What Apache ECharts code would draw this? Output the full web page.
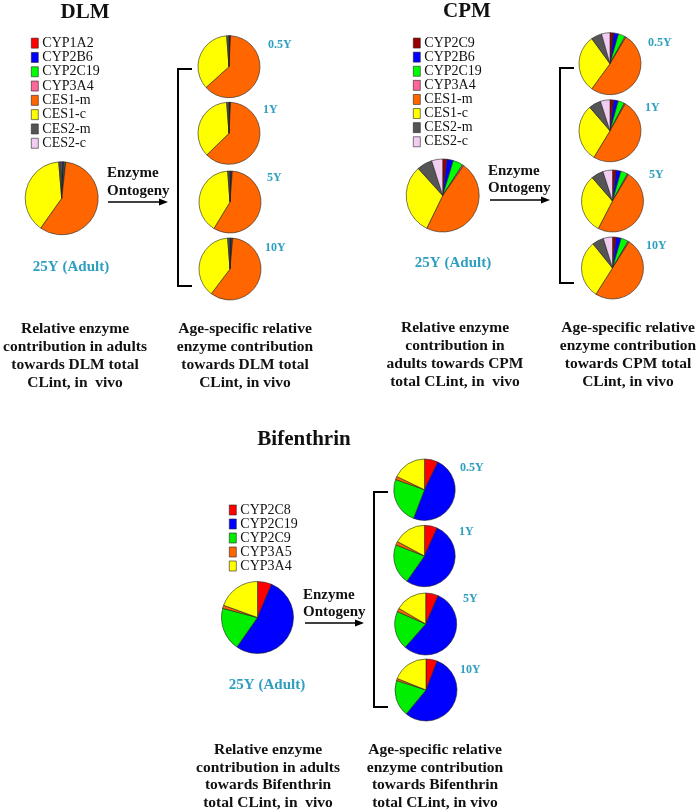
<!DOCTYPE html>
<html>
<head>
<meta charset="utf-8">
<script src="https://cdn.jsdelivr.net/npm/echarts@6/dist/echarts.min.js"></script>
<style>
html,body{margin:0;padding:0;background:#fff;}
#chart{width:700px;height:812px;}
</style>
</head>
<body>
<div id="chart"></div>
<script>
// ---------- data ----------
const ageLabels = ['0.5Y', '1Y', '5Y', '10Y'];
const adultLabel = '25Y (Adult)';

const dlmNames = ['CYP1A2', 'CYP2B6', 'CYP2C19', 'CYP3A4', 'CES1-m', 'CES1-c', 'CES2-m', 'CES2-c'];
const dlmAdult = [0.5, 0.5, 0.5, 0.3, 58.0, 38.9, 1.0, 0.3];
const dlm05 = [0.3, 0.2, 0.2, 0.1, 62.5, 35.5, 1.0, 0.2];
const dlm1 = [0.3, 0.2, 0.2, 0.1, 61.9, 36.1, 1.0, 0.2];
const dlm5 = [0.4, 0.3, 0.3, 0.2, 57.5, 40.1, 1.0, 0.2];
const dlm10 = [0.4, 0.4, 0.4, 0.2, 58.9, 38.5, 1.0, 0.2];

const cpmNames = ['CYP2C9', 'CYP2B6', 'CYP2C19', 'CYP3A4', 'CES1-m', 'CES1-c', 'CES2-m', 'CES2-c'];
const cpmAdult = [1.9, 2.8, 4.4, 0.6, 47.5, 31.1, 6.8, 4.9];
const cpm05 = [1.9, 2.5, 3.6, 0.6, 51.4, 30.0, 5.6, 4.4];
const cpm1 = [1.9, 2.4, 3.3, 0.6, 50.5, 30.0, 6.3, 5.0];
const cpm5 = [1.9, 2.5, 3.6, 0.6, 49.0, 31.0, 6.4, 5.0];
const cpm10 = [1.9, 2.6, 3.9, 0.6, 50.0, 30.2, 6.0, 4.8];

const bifNames = ['CYP2C8', 'CYP2C19', 'CYP2C9', 'CYP3A5', 'CYP3A4'];
const bifAdult = [6.4, 53.3, 19.4, 1.4, 19.5];
const bif05 = [7.2, 48.6, 24.6, 1.7, 17.9];
const bif1 = [6.7, 53.0, 21.2, 1.9, 17.2];
const bif5 = [6.6, 54.9, 20.1, 1.8, 16.6];
const bif10 = [5.9, 55.1, 19.0, 1.1, 18.9];

const dlmCaptionAdult = ['Relative enzyme', 'contribution in adults', 'towards DLM total', 'CLint, in  vivo'];
const dlmCaptionAge = ['Age-specific relative', 'enzyme contribution', 'towards DLM total', 'CLint, in vivo'];
const cpmCaptionAdult = ['Relative enzyme', 'contribution in', 'adults towards CPM', 'total CLint, in  vivo'];
const cpmCaptionAge = ['Age-specific relative', 'enzyme contribution', 'towards CPM total', 'CLint, in vivo'];
const bifCaptionAdult = ['Relative enzyme', 'contribution in adults', 'towards Bifenthrin', 'total CLint, in  vivo'];
const bifCaptionAge = ['Age-specific relative', 'enzyme contribution', 'towards Bifenthrin', 'total CLint, in vivo'];

// ---------- styles ----------
const dlmColors = ['#ff0000', '#0000ff', '#00ff00', '#ff6699', '#ff6600', '#ffff00', '#555555', '#f2cdf2'];
const cpmColors = ['#990000', '#0000ff', '#00ff00', '#ff6699', '#ff6600', '#ffff00', '#555555', '#f2cdf2'];
const bifColors = ['#ff0000', '#0000ff', '#00ee00', '#ff6600', '#ffff00'];

const SERIF = '"Liberation Serif", "Times New Roman", serif';
const TEAL = '#2f9fc0';

function pie(names, colors, values, cx, cy, r) {
  return {
    type: 'pie',
    center: [cx, cy],
    radius: [0, r],
    startAngle: 90,
    clockwise: true,
    animation: false,
    silent: true,
    label: { show: false },
    labelLine: { show: false },
    itemStyle: { borderColor: '#222', borderWidth: 0.6 },
    data: names.map((n, i) => ({ name: n, value: values[i], itemStyle: { color: colors[i] } }))
  };
}

function legend(names, colors, left, top, lh) {
  return {
    orient: 'vertical',
    left: left, top: top,
    padding: 0,
    itemGap: 0,
    itemWidth: 7,
    itemHeight: 10,
    icon: 'rect',
    selectedMode: false,
    textStyle: { fontFamily: SERIF, fontSize: 14, color: '#111', lineHeight: lh, padding: [0, 0, 0, -1] },
    data: names.map((n, i) => ({ name: n, itemStyle: { color: colors[i], borderColor: '#222', borderWidth: 0.6 } }))
  };
}

const G = [];
function txt(t, x, y, size, opts) {
  opts = opts || {};
  G.push({
    type: 'text', x: x, y: y, silent: true,
    style: {
      text: t, fill: opts.color || '#111',
      font: (opts.weight || 'bold') + ' ' + size + 'px ' + SERIF,
      textAlign: opts.align || 'center', textVerticalAlign: 'middle'
    }
  });
}
function caption(lines, cx, y0, dy) {
  lines.forEach((l, i) => txt(l, cx, y0 + i * dy, 15.5));
}
function arrow(x1, x2, y) {
  G.push({ type: 'line', silent: true, shape: { x1: x1, y1: y, x2: x2 - 6, y2: y }, style: { stroke: '#000', lineWidth: 1.6 } });
  G.push({ type: 'polygon', silent: true, shape: { points: [[x2, y], [x2 - 9, y - 3.5], [x2 - 9, y + 3.5]] }, style: { fill: '#000' } });
}
function bracket(x, y1, y2, x2) {
  G.push({ type: 'polyline', silent: true, shape: { points: [[x2, y1], [x, y1], [x, y2], [x2, y2]] }, style: { stroke: '#000', lineWidth: 2, fill: null } });
}

// ---------- text & decorations ----------
txt('DLM', 85, 13, 21);
txt('CPM', 467, 12, 21);
txt('Bifenthrin', 304, 440, 21);

txt('Enzyme', 107, 173, 15, { align: 'left' });
txt('Ontogeny', 107, 191, 15, { align: 'left' });
arrow(108, 168, 202);
txt('Enzyme', 488, 171, 15, { align: 'left' });
txt('Ontogeny', 488, 188, 15, { align: 'left' });
arrow(490, 550, 200);
txt('Enzyme', 303, 595, 15, { align: 'left' });
txt('Ontogeny', 303, 612, 15, { align: 'left' });
arrow(305, 364, 623);

bracket(178, 69, 286, 192);
bracket(560, 68, 283, 574);
bracket(374, 492, 707, 388);

txt(adultLabel, 71, 267, 15, { color: TEAL });
txt(adultLabel, 453, 263, 15, { color: TEAL });
txt(adultLabel, 267, 685, 15, { color: TEAL });

const dlmAgePos = [[268, 45], [263, 110], [267, 178], [265, 248]];
const cpmAgePos = [[648, 43], [645, 108], [649, 175], [646, 246]];
const bifAgePos = [[460, 468], [459, 532], [463, 599], [460, 670]];
ageLabels.forEach((a, i) => {
  txt(a, dlmAgePos[i][0], dlmAgePos[i][1], 12, { color: TEAL, align: 'left' });
  txt(a, cpmAgePos[i][0], cpmAgePos[i][1], 12, { color: TEAL, align: 'left' });
  txt(a, bifAgePos[i][0], bifAgePos[i][1], 12, { color: TEAL, align: 'left' });
});

caption(dlmCaptionAdult, 75, 329, 18);
caption(dlmCaptionAge, 245, 329, 18);
caption(cpmCaptionAdult, 455, 328, 18);
caption(cpmCaptionAge, 628, 328, 18);
caption(bifCaptionAdult, 268, 750, 17.6);
caption(bifCaptionAge, 435, 750, 17.6);

// ---------- chart ----------
const chart = echarts.init(document.getElementById('chart'), null, { renderer: 'canvas' });
chart.setOption({
  backgroundColor: '#fff',
  animation: false,
  legend: [
    legend(dlmNames, dlmColors, 31, 36, 14.3),
    legend(cpmNames, cpmColors, 413, 36, 14.1),
    legend(bifNames, bifColors, 229, 503, 13)
  ],
  series: [
    pie(dlmNames, dlmColors, dlmAdult, 61.7, 198.3, 36.5),
    pie(dlmNames, dlmColors, dlm05, 229, 66.7, 31),
    pie(dlmNames, dlmColors, dlm1, 229, 133.3, 31),
    pie(dlmNames, dlmColors, dlm5, 230, 202, 31),
    pie(dlmNames, dlmColors, dlm10, 230, 269, 31),
    pie(cpmNames, cpmColors, cpmAdult, 442.7, 195.5, 36.5),
    pie(cpmNames, cpmColors, cpm05, 610, 63.7, 31),
    pie(cpmNames, cpmColors, cpm1, 610, 130.8, 31),
    pie(cpmNames, cpmColors, cpm5, 612.5, 201, 31),
    pie(cpmNames, cpmColors, cpm10, 612.5, 268, 31),
    pie(bifNames, bifColors, bifAdult, 257.5, 617.5, 36),
    pie(bifNames, bifColors, bif05, 424.5, 489.7, 30.7),
    pie(bifNames, bifColors, bif1, 424.5, 556, 30.7),
    pie(bifNames, bifColors, bif5, 425.7, 624, 31),
    pie(bifNames, bifColors, bif10, 426, 690, 31)
  ],
  graphic: G
});
</script>
</body>
</html>
